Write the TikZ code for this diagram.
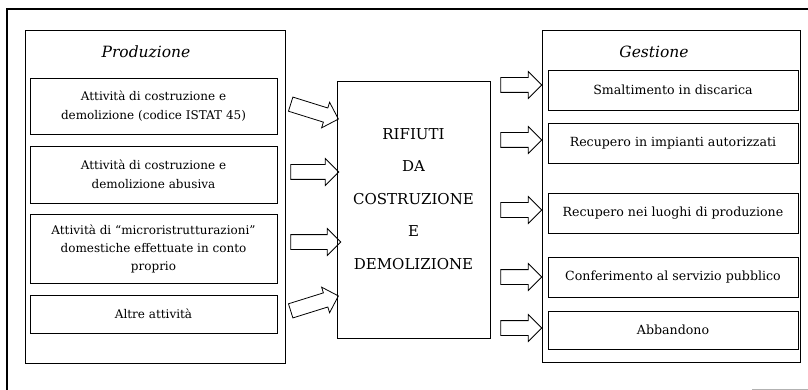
\documentclass[tikz,border=0pt]{standalone}
\usepackage{fontspec}
\setmainfont{DejaVu Serif}
\usetikzlibrary{shapes.arrows}
\begin{document}
\begin{tikzpicture}[x=1pt,y=-1pt,
  panel/.style={draw, line width=0.9pt, inner sep=0pt},
  box/.style={draw, line width=0.9pt, inner sep=0pt, align=center,
    font=\fontsize{12}{19}\selectfont},
  rbox/.style={box, font=\fontsize{12.6}{15}\selectfont},
  title/.style={font=\fontsize{15.5}{17}\selectfont\itshape, inner sep=0pt},
  blockarrow/.style={draw, line width=0.8pt, single arrow, minimum height=#1,
    single arrow head extend=6, inner sep=0pt, sloped, anchor=center}]
\useasboundingbox (0,0) rectangle (808,390);
% outer frame (cut off)
\draw[line width=1.2pt] (7,390) -- (7,9) -- (808,9);
\draw[line width=0.6pt, gray!60] (752,389) -- (808,389);

% left panel
\node[panel, minimum width=260, minimum height=333] (LP) at (155,196.5) {};
\node[title] (LPt) at (146,52) {Produzione};
\node[box, minimum width=247, minimum height=56] (L1) at (153.5,106)
  {Attività di costruzione e\\demolizione (codice ISTAT 45)};
\node[box, minimum width=247, minimum height=57] (L2) at (153.5,174.5)
  {Attività di costruzione e\\demolizione abusiva};
\node[box, minimum width=247, minimum height=69, font=\fontsize{12}{18}\selectfont] (L3) at (153.5,248.5)
  {Attività di ``microristrutturazioni''\\domestiche effettuate in conto\\proprio};
\node[box, minimum width=247, minimum height=38] (L4) at (153.5,314)
  {Altre attività};

% centre
\node[panel, minimum width=153, minimum height=257] (C) at (413.5,209.5) {};
\node[align=center, inner sep=0pt, font=\fontsize{15}{32.5}\selectfont] (Ct) at (413.5,199)
  {RIFIUTI\\DA\\COSTRUZIONE\\E\\DEMOLIZIONE};

% right panel
\node[panel, minimum width=258, minimum height=332] (RP) at (671,196) {};
\node[title] (RPt) at (654,52) {Gestione};
\node[rbox, minimum width=250, minimum height=40] (R1) at (673,90) {Smaltimento in discarica};
\node[rbox, minimum width=250, minimum height=40] (R2) at (673,143) {Recupero in impianti autorizzati};
\node[rbox, minimum width=250, minimum height=40] (R3) at (673,213) {Recupero nei luoghi di produzione};
\node[rbox, minimum width=250, minimum height=40] (R4) at (673,277) {Conferimento al servizio pubblico};
\node[rbox, minimum width=250, minimum height=38] (R5) at (673,330) {Abbandono};

% left arrows
\coordinate (a1s) at (287,103); \coordinate (a1e) at (335,118);
\coordinate (a2s) at (287,172); \coordinate (a2e) at (335,172);
\coordinate (a3s) at (287,242); \coordinate (a3e) at (337,242);
\coordinate (a4s) at (287,312); \coordinate (a4e) at (335,297);
\path (a1s) -- (a1e) node[blockarrow=50, midway] (A1) {\rule{0pt}{14pt}};
\path (a2s) -- (a2e) node[blockarrow=48, midway] (A2) {\rule{0pt}{14pt}};
\path (a3s) -- (a3e) node[blockarrow=50, midway] (A3) {\rule{0pt}{14pt}};
\path (a4s) -- (a4e) node[blockarrow=50, midway] (A4) {\rule{0pt}{14pt}};

% right arrows
\foreach \n/\y in {1/85, 2/140, 3/210, 4/277, 5/328} {
  \coordinate (b\n s) at (497,\y); \coordinate (b\n e) at (538,\y);
  \path (b\n s) -- (b\n e) node[blockarrow=41, midway] (B\n) {\rule{0pt}{14pt}};
}
\end{tikzpicture}
\end{document}
